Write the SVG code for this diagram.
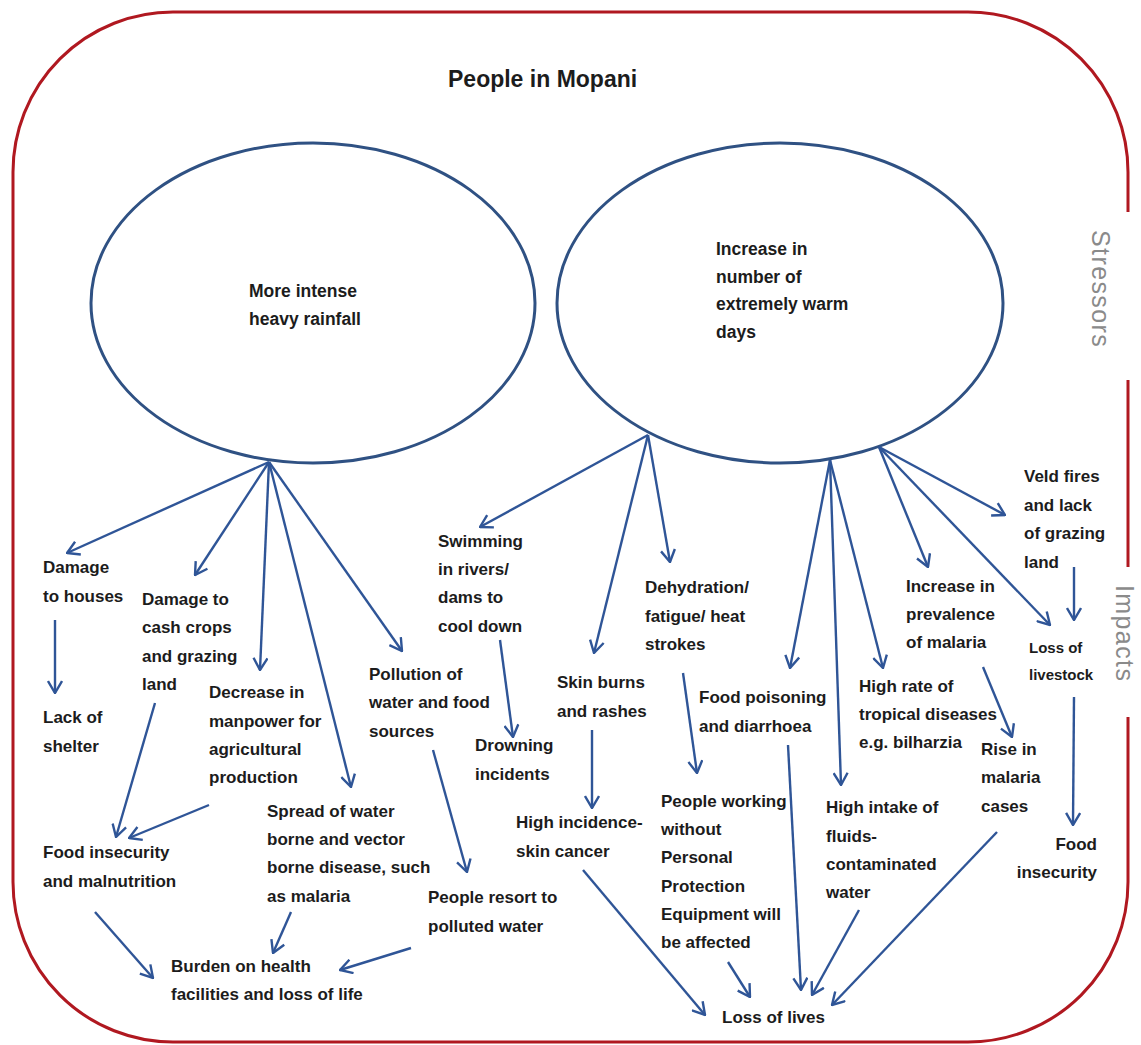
<svg xmlns="http://www.w3.org/2000/svg" width="1141" height="1045" viewBox="0 0 1141 1045">
<style>
.t{font-family:"Liberation Sans",Arial,sans-serif;font-weight:bold;font-size:17px;fill:#1c1c1c}
.e{font-size:17.5px}
.sm{font-size:15px}
.side{font-family:"Liberation Sans",Arial,sans-serif;font-size:25px;fill:#8a8a8a;letter-spacing:1.4px}
.frame{fill:none;stroke:#b01820;stroke-width:3}
.ell{fill:none;stroke:#2f5183;stroke-width:3}
.c line{stroke:#2f5597;stroke-width:2.4;marker-end:url(#ah)}
</style>
<defs>
<marker id="ah" viewBox="0 0 14 16" refX="13" refY="8" markerWidth="14" markerHeight="16" markerUnits="userSpaceOnUse" orient="auto">
<path d="M1,1 L13,8 L1,15" fill="none" stroke="#2f5597" stroke-width="2.4"/>
</marker>
</defs>
<rect width="1141" height="1045" fill="#ffffff"/>
<g id="frame">
<path class="frame" d="M1128,212 L1128,172 A160,160 0 0 0 968,12 L173,12 A160,160 0 0 0 13,172 L13,882 A160,160 0 0 0 173,1042 L968,1042 A160,160 0 0 0 1128,882 L1128,717"/>
<line class="frame" x1="1128" y1="380" x2="1128" y2="567"/>
<text class="side" transform="translate(1092,230) rotate(90)">Stressors</text>
<text class="side" transform="translate(1116,585) rotate(90)">Impacts</text>
</g>
<g id="title"><text class="t" x="448" y="87" style="font-size:23px">People in Mopani</text></g>
<g id="stressor-rainfall">
<ellipse class="ell" cx="313" cy="303" rx="222" ry="160"/>
<text class="t e"><tspan x="249" y="297">More intense</tspan><tspan x="249" y="325">heavy rainfall</tspan></text>
</g>
<g id="stressor-warm">
<ellipse class="ell" cx="780" cy="303" rx="223" ry="160"/>
<text class="t e"><tspan x="716" y="255">Increase in</tspan><tspan x="716" y="283">number of</tspan><tspan x="716" y="310">extremely warm</tspan><tspan x="716" y="338">days</tspan></text>
</g>
<g id="n-damage-houses"><text class="t"><tspan x="43" y="573">Damage</tspan><tspan x="43" y="602">to houses</tspan></text></g>
<g id="n-lack-shelter"><text class="t"><tspan x="43" y="723">Lack of</tspan><tspan x="43" y="752">shelter</tspan></text></g>
<g id="n-damage-crops"><text class="t"><tspan x="142" y="605">Damage to</tspan><tspan x="142" y="633">cash crops</tspan><tspan x="142" y="662">and grazing</tspan><tspan x="142" y="690">land</tspan></text></g>
<g id="n-manpower"><text class="t"><tspan x="209" y="698">Decrease in</tspan><tspan x="209" y="727">manpower for</tspan><tspan x="209" y="755">agricultural</tspan><tspan x="209" y="783">production</tspan></text></g>
<g id="n-pollution"><text class="t"><tspan x="369" y="680">Pollution of</tspan><tspan x="369" y="708">water and food</tspan><tspan x="369" y="737">sources</tspan></text></g>
<g id="n-food-insecurity-left"><text class="t"><tspan x="43" y="858">Food insecurity</tspan><tspan x="43" y="887">and malnutrition</tspan></text></g>
<g id="n-spread"><text class="t"><tspan x="267" y="817">Spread of water</tspan><tspan x="267" y="845">borne and vector</tspan><tspan x="267" y="873">borne disease, such</tspan><tspan x="267" y="902">as malaria</tspan></text></g>
<g id="n-polluted-water"><text class="t"><tspan x="428" y="903">People resort to</tspan><tspan x="428" y="932">polluted water</tspan></text></g>
<g id="n-burden"><text class="t"><tspan x="171" y="972">Burden on health</tspan><tspan x="171" y="1000">facilities and loss of life</tspan></text></g>
<g id="n-swimming"><text class="t"><tspan x="438" y="547">Swimming</tspan><tspan x="438" y="575">in rivers/</tspan><tspan x="438" y="603">dams to</tspan><tspan x="438" y="632">cool down</tspan></text></g>
<g id="n-drowning"><text class="t"><tspan x="475" y="751">Drowning</tspan><tspan x="475" y="780">incidents</tspan></text></g>
<g id="n-skin-burns"><text class="t"><tspan x="557" y="688">Skin burns</tspan><tspan x="557" y="717">and rashes</tspan></text></g>
<g id="n-dehydration"><text class="t"><tspan x="645" y="593">Dehydration/</tspan><tspan x="645" y="622">fatigue/ heat</tspan><tspan x="645" y="650">strokes</tspan></text></g>
<g id="n-skin-cancer"><text class="t"><tspan x="516" y="828">High incidence-</tspan><tspan x="516" y="857">skin cancer</tspan></text></g>
<g id="n-food-poisoning"><text class="t"><tspan x="699" y="703">Food poisoning</tspan><tspan x="699" y="732">and diarrhoea</tspan></text></g>
<g id="n-ppe"><text class="t"><tspan x="661" y="807">People working</tspan><tspan x="661" y="835">without</tspan><tspan x="661" y="863">Personal</tspan><tspan x="661" y="892">Protection</tspan><tspan x="661" y="920">Equipment will</tspan><tspan x="661" y="948">be affected</tspan></text></g>
<g id="n-tropical"><text class="t"><tspan x="859" y="692">High rate of</tspan><tspan x="859" y="720">tropical diseases</tspan><tspan x="859" y="748">e.g. bilharzia</tspan></text></g>
<g id="n-fluids"><text class="t"><tspan x="826" y="813">High intake of</tspan><tspan x="826" y="842">fluids-</tspan><tspan x="826" y="870">contaminated</tspan><tspan x="826" y="898">water</tspan></text></g>
<g id="n-malaria-prevalence"><text class="t"><tspan x="906" y="592">Increase in</tspan><tspan x="906" y="620">prevalence</tspan><tspan x="906" y="648">of malaria</tspan></text></g>
<g id="n-malaria-cases"><text class="t"><tspan x="981" y="755">Rise in</tspan><tspan x="981" y="783">malaria</tspan><tspan x="981" y="812">cases</tspan></text></g>
<g id="n-veld-fires"><text class="t"><tspan x="1024" y="482">Veld fires</tspan><tspan x="1024" y="511">and lack</tspan><tspan x="1024" y="539">of grazing</tspan><tspan x="1024" y="568">land</tspan></text></g>
<g id="n-livestock"><text class="t sm"><tspan x="1029" y="653">Loss of</tspan><tspan x="1029" y="680">livestock</tspan></text></g>
<g id="n-food-insecurity-right"><text class="t" text-anchor="end"><tspan x="1097" y="850">Food</tspan><tspan x="1097" y="878">insecurity</tspan></text></g>
<g id="n-loss-lives"><text class="t"><tspan x="722" y="1023">Loss of lives</tspan></text></g>
<g id="connectors" class="c">
<line x1="269" y1="462" x2="67" y2="553"/>
<line x1="269" y1="462" x2="195" y2="575"/>
<line x1="269" y1="462" x2="260" y2="670"/>
<line x1="269" y1="462" x2="351" y2="787"/>
<line x1="269" y1="462" x2="402" y2="651"/>
<line x1="55" y1="620" x2="55" y2="693"/>
<line x1="155" y1="703" x2="116" y2="837"/>
<line x1="209" y1="805" x2="129" y2="838"/>
<line x1="433" y1="750" x2="467" y2="872"/>
<line x1="95" y1="912" x2="153" y2="978"/>
<line x1="291" y1="912" x2="273" y2="953"/>
<line x1="411" y1="948" x2="340" y2="970"/>
<line x1="648" y1="435" x2="480" y2="527"/>
<line x1="648" y1="435" x2="594" y2="653"/>
<line x1="648" y1="435" x2="670" y2="562"/>
<line x1="500" y1="640" x2="513" y2="737"/>
<line x1="592" y1="730" x2="592" y2="808"/>
<line x1="683" y1="673" x2="697" y2="773"/>
<line x1="830" y1="460" x2="790" y2="668"/>
<line x1="830" y1="460" x2="841" y2="785"/>
<line x1="830" y1="460" x2="883" y2="668"/>
<line x1="788" y1="745" x2="801" y2="990"/>
<line x1="728" y1="962" x2="750" y2="997"/>
<line x1="583" y1="870" x2="705" y2="1015"/>
<line x1="859" y1="910" x2="812" y2="995"/>
<line x1="997" y1="832" x2="832" y2="1005"/>
<line x1="879" y1="447" x2="928" y2="567"/>
<line x1="879" y1="447" x2="1050" y2="625"/>
<line x1="879" y1="447" x2="1005" y2="515"/>
<line x1="1074" y1="567" x2="1074" y2="620"/>
<line x1="983" y1="667" x2="1012" y2="737"/>
<line x1="1074" y1="697" x2="1073" y2="825"/>
</g>
</svg>
